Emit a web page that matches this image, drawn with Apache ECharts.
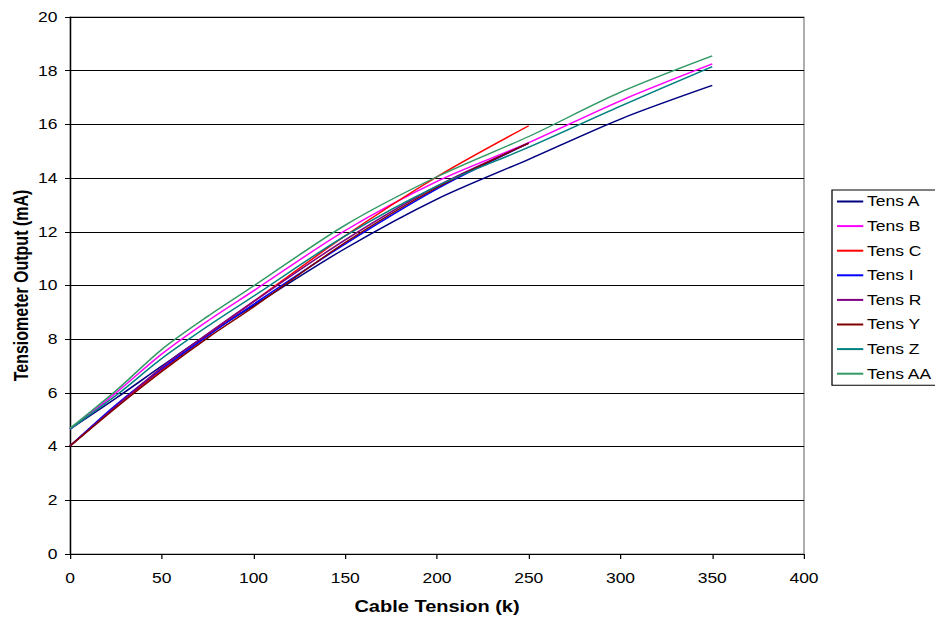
<!DOCTYPE html>
<html>
<head>
<meta charset="utf-8">
<script src="https://cdn.jsdelivr.net/npm/echarts@6/dist/echarts.min.js"></script>
<style>
  html, body { margin: 0; padding: 0; background: #fff; overflow: hidden; }
  /* chart is laid out narrower and widened horizontally, giving the broad lettering */
  #chart { width: 748px; height: 621px; transform: scaleX(1.25); transform-origin: 0 0; }
</style>
</head>
<body>
<div id="chart"></div>
<script>
// Cable tension (k) at which each tensiometer was read
const tension = [0, 25, 50, 75, 100, 150, 200, 250, 300, 350];

// Tensiometer output (mA) per unit
const tensA  = [4.65, 5.80, 7.00, 8.18, 9.25, 11.38, 13.22, 14.70, 16.20, 17.45];
const tensB  = [4.65, 6.00, 7.45, 8.68, 9.80, 12.05, 13.88, 15.32, 16.88, 18.25];
const tensC  = [4.02, 5.50, 6.85, 8.15, 9.40, 11.85, 14.05, 15.95];
const tensI  = [4.02, 5.55, 6.90, 8.12, 9.30, 11.55, 13.60, 15.30];
const tensR  = [4.02, 5.50, 6.95, 8.20, 9.40, 11.70, 13.70, 15.30];
const tensY  = [4.02, 5.45, 6.80, 8.05, 9.20, 11.60, 13.65, 15.30];
const tensZ  = [4.65, 5.90, 7.28, 8.48, 9.60, 11.85, 13.70, 15.15, 16.68, 18.15];
const tensAA = [4.68, 6.08, 7.62, 8.85, 9.98, 12.25, 14.05, 15.55, 17.20, 18.55];

const seriesNames = ['Tens A', 'Tens B', 'Tens C', 'Tens I', 'Tens R', 'Tens Y', 'Tens Z', 'Tens AA'];
const seriesValues = [tensA, tensB, tensC, tensI, tensR, tensY, tensZ, tensAA];
const seriesColors = ['#000080', '#FF00FF', '#FF0000', '#0000FF', '#800080', '#800000', '#008080', '#339966'];

const xTicks = [0, 50, 100, 150, 200, 250, 300, 350, 400];
const yTicks = [0, 2, 4, 6, 8, 10, 12, 14, 16, 18, 20];

const font = 'Liberation Sans, Arial, sans-serif';

const chart = echarts.init(document.getElementById('chart'), null, { renderer: 'svg' });

const series = seriesNames.map((name, i) => ({
  name: name,
  type: 'line',
  smooth: 0.3,
  symbol: 'none',
  data: seriesValues[i].map((v, j) => [tension[j], v]),
  lineStyle: { color: seriesColors[i], width: 1.4 },
  itemStyle: { color: seriesColors[i] },
  z: 3
}));

chart.setOption({
  animation: false,
  backgroundColor: '#fff',
  grid: {
    left: 56, right: 104.8, top: 17, bottom: 67,
    containLabel: false, outerBoundsMode: 'none',
    show: true, borderColor: '#808080', borderWidth: 1
  },
  xAxis: {
    type: 'value',
    min: xTicks[0],
    max: xTicks[xTicks.length - 1],
    interval: 50,
    name: 'Cable Tension (k)',
    nameLocation: 'middle',
    nameGap: 45,
    nameMoveOverlap: false,
    nameTextStyle: { fontFamily: font, fontSize: 16, fontWeight: 'bold', color: '#000' },
    axisLine: { lineStyle: { color: '#000', width: 1 } },
    axisTick: { show: true, length: 5, lineStyle: { color: '#000' } },
    axisLabel: { fontFamily: font, fontSize: 14, color: '#000', margin: 17 },
    splitLine: { show: false }
  },
  yAxis: {
    type: 'value',
    min: yTicks[0],
    max: yTicks[yTicks.length - 1],
    interval: 2,
    name: 'Tensiometer Output (mA)',
    nameLocation: 'middle',
    nameGap: 31,
    nameMoveOverlap: false,
    nameTextStyle: { fontFamily: font, fontSize: 16, fontWeight: 'bold', color: '#000' },
    axisLine: { show: true, lineStyle: { color: '#000', width: 1 } },
    axisTick: { show: true, length: 4, lineStyle: { color: '#000' } },
    axisLabel: { fontFamily: font, fontSize: 14, color: '#000', margin: 10 },
    splitLine: { show: true, lineStyle: { color: '#000', width: 1 } }
  },
  legend: {
    orient: 'vertical',
    left: 665.6,
    top: 190,
    width: 80,
    padding: [3, 6, 3, 4],
    borderColor: '#000',
    borderWidth: 1,
    itemWidth: 21,
    itemHeight: 2,
    itemGap: 7.6,
    icon: 'rect',
    textStyle: { fontFamily: font, fontSize: 14, color: '#000', lineHeight: 17, padding: [0, 0, 0, -2] },
    data: seriesNames
  },
  series: series
});
</script>
</body>
</html>
